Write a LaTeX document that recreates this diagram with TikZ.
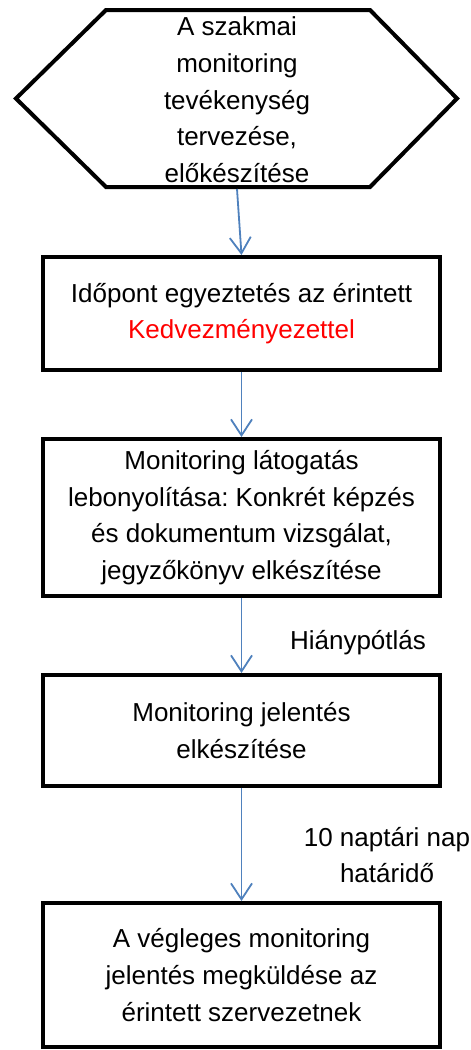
\documentclass[tikz,border=0pt]{standalone}
\usepackage{fontspec}
\setmainfont{Liberation Sans}
\usetikzlibrary{arrows.meta}
\definecolor{arrowblue}{RGB}{79,129,189}
\definecolor{kred}{RGB}{255,0,0}
\begin{document}
\begin{tikzpicture}[x=1pt,y=-1pt,
  txt/.style={font=\fontsize{26}{36.7}\selectfont\frenchspacing, align=center, inner sep=0pt},
  stepbox/.style={txt, draw=black, line width=4pt, minimum width=397pt},
  flow/.style={draw=arrowblue, line width=1.8pt, -{Straight Barb[length=16pt,width=21pt,line width=1.8pt]}},
  lbl/.style={txt}]
\useasboundingbox (0,0) rectangle (471,1050);
\fill[white] (0,0) rectangle (471,1050);
% hexagon
\coordinate (hl) at (16,98.5);
\coordinate (htl) at (106,10);
\coordinate (htr) at (370,10);
\coordinate (hr) at (457,98.5);
\coordinate (hbr) at (370,187);
\coordinate (hbl) at (106,187);
\draw[line width=4pt, line join=miter] (hl) -- (htl) -- (htr) -- (hr) -- (hbr) -- (hbl) -- cycle;
\node[txt] (hex) at (237,100) {A szakmai\\monitoring\\tevékenység\\tervezése,\\előkészítése};
\coordinate (hexb) at (237,189);
% boxes
\node[stepbox, minimum height=113pt] (b1) at (241.5,313.5) {Időpont egyeztetés az érintett\\\textcolor{kred}{Kedvezményezettel}};
\node[stepbox, minimum height=157pt] (b2) at (241.5,517.5) {Monitoring látogatás\\lebonyolítása: Konkrét képzés\\és dokumentum vizsgálat,\\jegyzőkönyv elkészítése};
\node[stepbox, minimum height=111pt] (b3) at (241.5,730.5) {Monitoring jelentés\\elkészítése};
\node[stepbox, minimum height=144pt] (b4) at (241.5,975) {A végleges monitoring\\jelentés megküldése az\\érintett szervezetnek};
% labels
\node[lbl] (l1) at (358,643) {Hiánypótlás};
\node[lbl] (l2) at (387,855) {10 naptári nap\\határidő};
% connectors
\draw[flow] (hexb) -- (b1.north);
\draw[flow] (b1.south) -- (b2.north);
\draw[flow] (b2.south) -- (b3.north);
\draw[flow] (b3.south) -- (b4.north);
\end{tikzpicture}
\end{document}
